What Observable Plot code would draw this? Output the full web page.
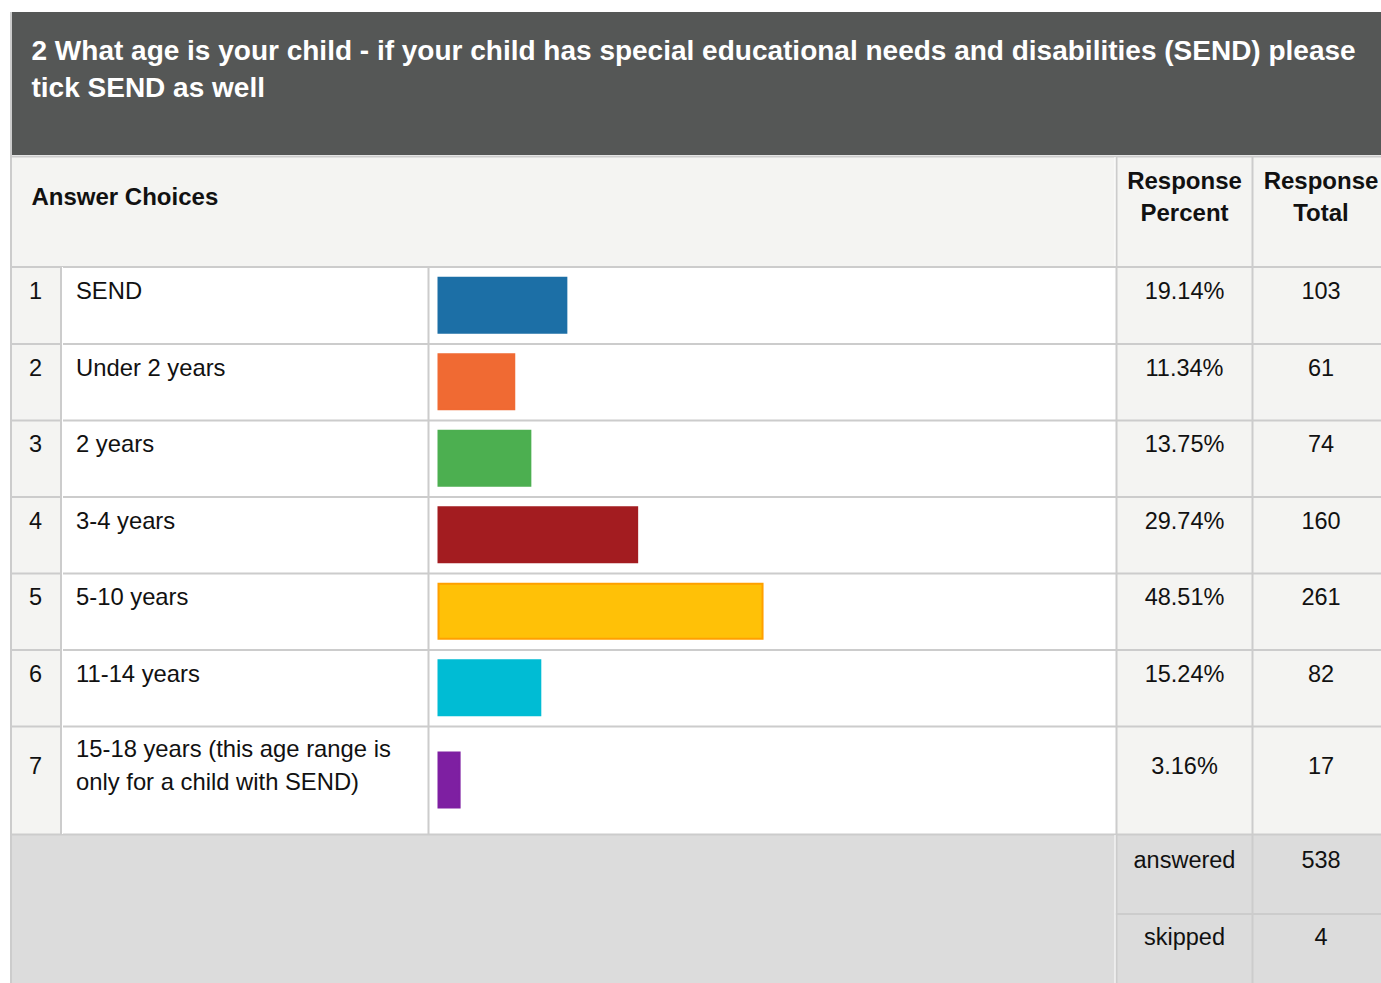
<!DOCTYPE html>
<html>
<head>
<meta charset="utf-8">
<script src="https://cdn.jsdelivr.net/npm/d3@7"></script>
<script src="https://cdn.jsdelivr.net/npm/@observablehq/plot@0.6"></script>
<style>
  html, body { margin: 0; padding: 0; background: #ffffff; }
  #chart svg { display: block; }
</style>
</head>
<body>
<div id="chart"></div>
<script>
// ---- Data ----
const titleLines = [
  "2 What age is your child - if your child has special educational needs and disabilities (SEND) please",
  "tick SEND as well"
];
const choices = [
  "SEND",
  "Under 2 years",
  "2 years",
  "3-4 years",
  "5-10 years",
  "11-14 years",
  "15-18 years (this age range is only for a child with SEND)"
];
const percents = [19.14, 11.34, 13.75, 29.74, 48.51, 15.24, 3.16];
const totals = [103, 61, 74, 160, 261, 82, 17];
const barColors = ["#1c6fa6", "#f06a33", "#4caf50", "#a31c20", "#ffc107", "#00bcd4", "#7e1fa2"];
const barStrokes = ["#1c6fa6", "#f06a33", "#4caf50", "#a31c20", "#ffa000", "#00bcd4", "#7e1fa2"];
const answered = 538;
const skipped = 4;

// ---- Layout ----
const W = 1381, H = 983;
const X0 = 438.5, X1 = 1106.5;           // pixel range of 0..100 %
const toX = px => (px - X0) / (X1 - X0) * 100;
const FONT = "'Liberation Sans', Arial, Helvetica, sans-serif";
const GRID = "#cccccc";
const LIGHT = "#f4f4f2";

const rowTop0 = 267, rowH = 76.5, lastRowH = 108;
const rows = choices.map((c, i) => {
  const top = rowTop0 + i * rowH;
  const h = i === choices.length - 1 ? lastRowH : rowH;
  const lines = i === choices.length - 1 ? 2 : 1;
  return {
    num: String(i + 1), label: c, pct: percents[i], total: totals[i],
    fill: barColors[i], stroke: barStrokes[i],
    top, h, textY: top + 24 + (lines - 1) * 16, mid: top + h / 2, lines
  };
});
const tableBottom = rows[rows.length - 1].top + lastRowH; // 834

const bgRects = [
  {x1: 11, x2: W, y1: 12, y2: 155, fill: "#555756"},
  {x1: 11, x2: W, y1: 157, y2: 266, fill: LIGHT},
  {x1: 11, x2: 60, y1: 267, y2: tableBottom, fill: LIGHT},
  {x1: 1116, x2: W, y1: 267, y2: tableBottom, fill: LIGHT},
  {x1: 11, x2: W, y1: tableBottom + 1, y2: H, fill: "#dcdcdc"}
];
const hLines = [
  {y: 156, x1: 10, x2: W},
  {y: 266.5, x1: 10, x2: W},
  ...rows.slice(1).map(r => ({y: r.top, x1: 10, x2: W})),
  {y: tableBottom, x1: 10, x2: W},
  {y: 913.5, x1: 1115, x2: W}
];
const vLines = [
  {x: 10.5, y1: 12, y2: H},
  {x: 60.5, y1: 267, y2: tableBottom},
  {x: 428, y1: 267, y2: tableBottom},
  {x: 1116, y1: 157, y2: H},
  {x: 1252, y1: 157, y2: H}
];
const whiteLines = [
  {x: 1114.5, y1: 157, y2: 266},
  {x: 1114.5, y1: tableBottom + 1, y2: H},
  {x: 62, y1: 267, y2: tableBottom}
];

const headerLeft = [{x: 31, y: 196.5, text: "Answer Choices"}];
const headerRight = [
  {x: 1184, y: 194.5, text: "Response\nPercent"},
  {x: 1320.5, y: 194.5, text: "Response\nTotal"}
];
const footerTexts = [
  {x: 1184, y: 860, text: "answered"},
  {x: 1320.5, y: 860, text: String(answered)},
  {x: 1184, y: 937, text: "skipped"},
  {x: 1320.5, y: 937, text: String(skipped)}
];

const chart = Plot.plot({
  width: W,
  height: H,
  margin: 0,
  style: {fontFamily: FONT, background: "#ffffff"},
  x: {type: "linear", domain: [0, 100], range: [X0, X1], axis: null},
  y: {type: "identity", axis: null},
  marks: [
    Plot.rect(bgRects, {x1: d => toX(d.x1), x2: d => toX(d.x2), y1: "y1", y2: "y2", fill: d => d.fill}),
    Plot.ruleY(hLines, {y: "y", x1: d => toX(d.x1), x2: d => toX(d.x2), stroke: GRID, strokeWidth: 2}),
    Plot.ruleX(vLines, {x: d => toX(d.x), y1: "y1", y2: "y2", stroke: GRID, strokeWidth: 2}),
    Plot.ruleX(whiteLines, {x: d => toX(d.x), y1: "y1", y2: "y2", stroke: "#ffffff", strokeWidth: 1}),
    // bars
    Plot.rect(rows, {
      x1: 0, x2: "pct",
      y1: d => d.mid - 27.5, y2: d => d.mid + 27.5,
      fill: d => d.fill, stroke: d => d.stroke, strokeWidth: 2
    }),
    // title
    Plot.text([titleLines.join("\n")], {
      x: toX(31), y: 66.5, text: d => d, textAnchor: "start", lineAnchor: "middle",
      lineHeight: 1.32, fontSize: 28, fontWeight: "bold", fill: "#ffffff", fontFamily: FONT
    }),
    Plot.text(headerLeft, {
      x: d => toX(d.x), y: "y", text: "text", textAnchor: "start", lineAnchor: "middle",
      fontSize: 24, fontWeight: "bold", fill: "#111111", fontFamily: FONT
    }),
    Plot.text(headerRight, {
      x: d => toX(d.x), y: "y", text: "text", textAnchor: "middle", lineAnchor: "middle",
      lineHeight: 1.34, fontSize: 24, fontWeight: "bold", fill: "#111111", fontFamily: FONT
    }),
    // rows
    Plot.text(rows, {
      x: toX(35), y: "textY", text: "num", textAnchor: "middle", lineAnchor: "middle",
      fontSize: 23.5, fill: "#111111", fontFamily: FONT
    }),
    Plot.text(rows, {
      x: toX(75.5), y: d => d.textY - (d.lines > 1 ? 3.5 : 2.5), text: "label", textAnchor: "start", lineAnchor: "middle",
      lineWidth: 14.6, lineHeight: 1.36, fontSize: 23.8, fill: "#111111", fontFamily: FONT
    }),
    Plot.text(rows, {
      x: toX(1184), y: "textY", text: d => d.pct.toFixed(2) + "%", textAnchor: "middle", lineAnchor: "middle",
      fontSize: 23.5, fill: "#111111", fontFamily: FONT
    }),
    Plot.text(rows, {
      x: toX(1320.5), y: "textY", text: d => String(d.total), textAnchor: "middle", lineAnchor: "middle",
      fontSize: 23.5, fill: "#111111", fontFamily: FONT
    }),
    Plot.text(footerTexts, {
      x: d => toX(d.x), y: "y", text: "text", textAnchor: "middle", lineAnchor: "middle",
      fontSize: 23.5, fill: "#111111", fontFamily: FONT
    })
  ]
});
document.getElementById("chart").appendChild(chart);
</script>
</body>
</html>
